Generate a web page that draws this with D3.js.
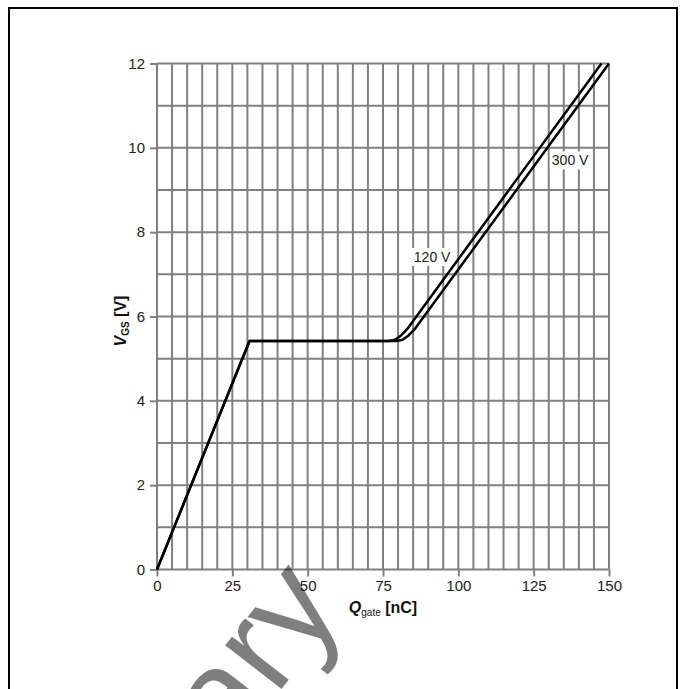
<!DOCTYPE html>
<html>
<head>
<meta charset="utf-8">
<script src="https://d3js.org/d3.v7.min.js"></script>
<style>
  body { margin: 0; background: #fff; }
  svg text { font-family: "Liberation Sans", Arial, sans-serif; }
</style>
</head>
<body>
<svg width="684" height="689"></svg>
<script>
// gate charge curves
const charge120 = [0, 30.7, 77, 79, 81, 83, 147.5];
const volts120  = [0, 5.42, 5.42, 5.45, 5.55, 5.7, 12];
const charge300 = [0, 30.7, 79.5, 81.5, 83.5, 85.5, 150];
const volts300  = [0, 5.42, 5.42, 5.45, 5.55, 5.7, 12];

const xTicks = [0, 25, 50, 75, 100, 125, 150];
const yTicks = [0, 2, 4, 6, 8, 10, 12];
const curveLabels = ["120 V", "300 V"];
const labelSpots = [[91.3, 7.41], [137.1, 9.7]];

const svg = d3.select("svg");
const grey = "#808080";

const x = d3.scaleLinear().domain([0, 150]).range([157, 609]);
const y = d3.scaleLinear().domain([0, 12]).range([569.5, 63.5]);

// outer frame
svg.append("rect")
  .attr("x", 9).attr("y", 8).attr("width", 668).attr("height", 720)
  .attr("fill", "none").attr("stroke", "#000").attr("stroke-width", 2);

// grid: every 5 nC and every 1 V
const grid = svg.append("g").attr("stroke", grey).attr("stroke-width", 2);
grid.selectAll(".gx").data(d3.range(0, 151, 5)).join("line")
  .attr("x1", d => x(d)).attr("x2", d => x(d))
  .attr("y1", y(0)).attr("y2", y(12));
grid.selectAll(".gy").data(d3.range(0, 13, 1)).join("line")
  .attr("x1", x(0)).attr("x2", x(150))
  .attr("y1", d => y(d)).attr("y2", d => y(d));

// axes
const yAxis = svg.append("g")
  .attr("transform", `translate(${x(0)},0)`)
  .call(d3.axisLeft(y).tickValues(yTicks).tickSize(7).tickPadding(5));
const xAxis = svg.append("g")
  .attr("transform", `translate(0,${y(0)})`)
  .call(d3.axisBottom(x).tickValues(xTicks).tickSize(7).tickPadding(4));
[xAxis, yAxis].forEach(a => {
  a.select(".domain").remove();
  a.selectAll(".tick line").attr("stroke", grey).attr("stroke-width", 2);
  a.selectAll(".tick text")
    .attr("fill", "#222")
    .style("font-size", "15px")
    .style("font-family", "'Liberation Sans', Arial, sans-serif");
});

// curve labels with white boxes
curveLabels.forEach((t, i) => {
  const g = svg.append("g");
  const txt = g.append("text")
    .attr("x", x(labelSpots[i][0])).attr("y", y(labelSpots[i][1]))
    .attr("text-anchor", "middle").attr("dy", "0.35em")
    .attr("fill", "#222").style("font-size", "14px").text(t);
  const b = txt.node().getBBox();
  g.insert("rect", "text")
    .attr("x", b.x - 2).attr("y", b.y - 1)
    .attr("width", b.width + 4).attr("height", b.height + 2)
    .attr("fill", "#fff");
});

// curves
const line = d3.line().x(d => x(d[0])).y(d => y(d[1]));
[[charge120, volts120], [charge300, volts300]].forEach(([qs, vs]) => {
  svg.append("path")
    .datum(qs.map((q, i) => [q, vs[i]]))
    .attr("d", line)
    .attr("fill", "none")
    .attr("stroke", "#000")
    .attr("stroke-width", 2.5)
    .attr("stroke-linejoin", "round");
});

// axis titles
const yt = svg.append("text")
  .attr("transform", "translate(126,321) rotate(-90)")
  .attr("text-anchor", "middle")
  .attr("fill", "#111")
  .style("font-size", "16px").style("font-weight", "bold");
yt.append("tspan").style("font-style", "italic").text("V");
yt.append("tspan").style("font-size", "10px").attr("dy", 3).text("GS");
yt.append("tspan").attr("dy", -3).text(" [V]");

const xt = svg.append("text")
  .attr("x", 383).attr("y", 613)
  .attr("text-anchor", "middle")
  .attr("fill", "#111")
  .style("font-size", "16px").style("font-weight", "bold");
xt.append("tspan").style("font-style", "italic").text("Q");
xt.append("tspan").style("font-size", "10px").style("font-weight", "normal").attr("dy", 3).text("gate");
xt.append("tspan").attr("dy", -3).text(" [nC]");

// watermark, mostly below the visible page
svg.append("text")
  .attr("transform", "translate(345,608) rotate(-52)")
  .attr("text-anchor", "end")
  .attr("fill", "#000").attr("fill-opacity", 0.5)
  .style("font-size", "135px")
  .text("Preliminary");
</script>
</body>
</html>
